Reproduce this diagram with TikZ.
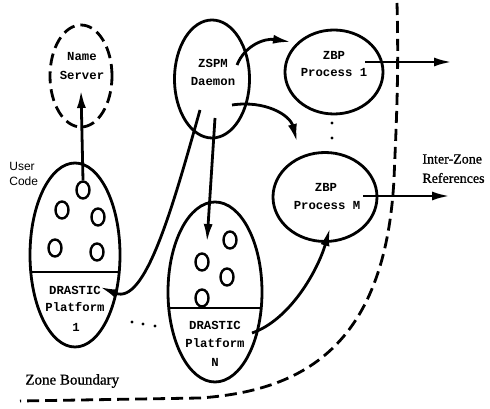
\documentclass[tikz,border=0pt]{standalone}
\usepackage{fontspec}
\setmainfont{Liberation Serif}[FakeBold=1]
\newfontfamily\monolab{Liberation Mono}
\newfontfamily\sanslab{Liberation Sans}
\usetikzlibrary{shapes.geometric,arrows.meta,calc}
\tikzset{
  every picture/.style={line width=2.8pt},
  proc/.style={draw, ellipse, inner sep=0pt},
  tok/.style={draw, ellipse, inner sep=0pt, minimum width=13pt, minimum height=17pt, line width=2.4pt},
  lab/.style={font=\monolab\bfseries\fontsize{12.3}{14}\selectfont, inner sep=0pt},
  serlab/.style={font=\fontsize{15}{17}\selectfont, inner sep=0pt, anchor=west},
  arr/.style={-{Latex[length=18pt,width=9pt]}},
  zone/.style={dash pattern=on 12pt off 6pt},
}
\begin{document}
\begin{tikzpicture}[x=1pt,y=1pt]
\useasboundingbox (0,0) rectangle (490,409);

% processes
\node[proc, dash pattern=on 12pt off 6pt, minimum width=62pt, minimum height=102pt] (ns) at (81,333) {};
\node[proc, minimum width=75pt, minimum height=118pt] (zspm) at (212,330) {};
\node[proc, minimum width=98pt, minimum height=84pt] (zbp1) at (334,337) {};
\node[proc, minimum width=104pt, minimum height=89pt] (zbpm) at (325,212) {};
\node[proc, minimum width=90pt, minimum height=184pt] (p1) at (75,154) {};
\node[proc, minimum width=94pt, minimum height=180pt] (pN) at (215,117) {};

% platform dividers
\begin{scope}
  \clip (p1.center) ellipse (45 and 92);
  \draw (20,137) -- (130,137);
\end{scope}
\begin{scope}
  \clip (pN.center) ellipse (47 and 90);
  \draw (160,101) -- (270,101);
\end{scope}

% labels
\node[lab] (tns1) at (82,352) {Name};
\node[lab] (tns2) at (82,334) {Server};
\node[lab] (tz1) at (213,346) {ZSPM};
\node[lab] (tz2) at (213,327) {Daemon};
\node[lab] (tb1) at (334,354) {ZBP};
\node[lab] (tb2) at (334,336) {Process 1};
\node[lab] (tm1) at (326,222) {ZBP};
\node[lab] (tm2) at (327,203) {Process M};
\node[lab] (tp11) at (75,119) {DRASTIC};
\node[lab] (tp12) at (75,102) {Platform};
\node[lab] (tp13) at (76,82) {1};
\node[lab] (tpN1) at (215,84) {DRASTIC};
\node[lab] (tpN2) at (215,66) {Platform};
\node[lab] (tpN3) at (215,47) {N};
\node[font=\sanslab\fontsize{12}{15}\selectfont, align=left, anchor=north west, inner sep=0pt] (uc) at (8,248) {User\\Code};
\node[serlab, font=\fontsize{14}{16}\selectfont] (iz1) at (421,250) {Inter-Zone};
\node[serlab, font=\fontsize{14}{16}\selectfont] (iz2) at (421,231) {References};
\node[serlab] (zb) at (24,28) {Zone Boundary};

% user-code objects
\node[tok] (a1) at (83,219) {};
\node[tok] (a2) at (62,199) {};
\node[tok] (a3) at (98,192) {};
\node[tok] (a4) at (55,161) {};
\node[tok] (a5) at (97,157) {};
\node[tok] (b1) at (230,169) {};
\node[tok] (b2) at (202,147) {};
\node[tok] (b3) at (227,132) {};
\node[tok] (b4) at (202,111) {};

% ellipsis dots
\fill (332,286) circle (1.7);
\fill (332,271) circle (1.7);
\fill (132,87) circle (1.6);
\fill (143,85) circle (1.6);
\fill (155,83) circle (1.6);

% connectors
\coordinate (out1) at (452,347);
\coordinate (outm) at (450,213);
\draw[arr] (a1.north) -- ($(ns.center)+(0,-14)$);
\draw[arr] ($(zspm.center)+(3,-39)$) -- ($(pN.center)+(-8,50)$);
\draw[arr] ($(zspm.center)+(-12,-31)$) .. controls (172,199) and (145,104) .. ($(p1.center)+(25,-32)$);
\draw[arr] ($(pN.center)+(37,-41)$) .. controls (290,89) and (318,139) .. ($(zbpm.center)+(5,-31)$);
\draw[arr] ($(zspm.center)+(25,14)$) .. controls (245,364) and (265,371) .. ($(zbp1.center)+(-43,30)$);
\draw[arr] ($(zspm.center)+(20,-26)$) .. controls (265,309) and (290,294) .. ($(zbpm.center)+(-28,55)$);
\draw[arr] ($(zbp1.center)+(31,10)$) -- (out1);
\draw[arr] ($(zbpm.center)+(38,1)$) -- (outm);

% zone boundary
\draw[zone] (397,406) .. controls (399,330) and (396,280) .. (394,230)
  .. controls (385,60) and (300,18) .. (200,11) -- (20,8);
\end{tikzpicture}
\end{document}
